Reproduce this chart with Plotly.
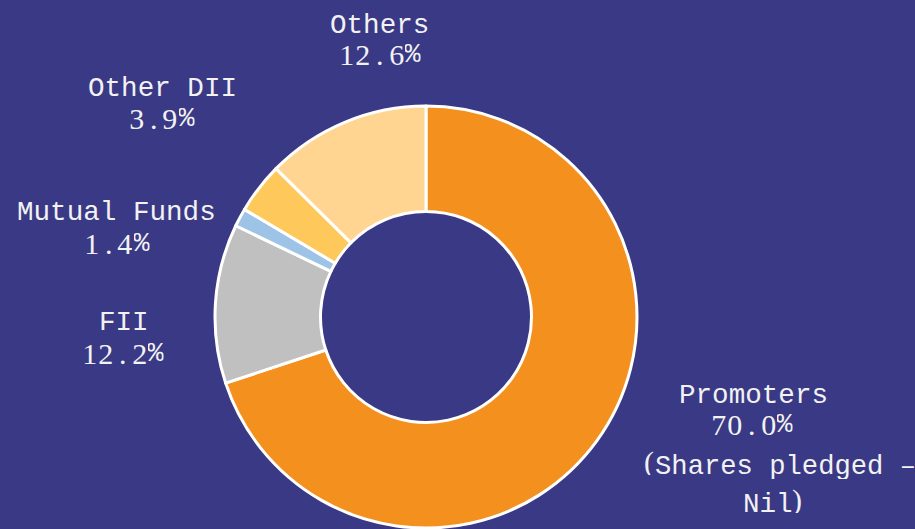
import plotly.graph_objects as go

categories = ["Promoters", "FII", "Mutual Funds", "Other DII", "Others"]
values = [70.0, 12.2, 1.4, 3.9, 12.6]
colors = ["#F4901E", "#C0C0C0", "#9DC3E6", "#FFC85A", "#FFD591"]
label_titles = ["Promoters", "FII", "Mutual Funds", "Other DII", "Others"]
pct_labels = ["70.0", "12.2", "1.4", "3.9", "12.6"]
note_line1 = "Shares pledged –"
note_line2 = "Nil"

W, H = 915, 529
BG = "#3A3985"
cx, cy, R = 426, 317, 211

fig = go.Figure(go.Pie(
    labels=categories, values=values, hole=0.5, sort=False,
    direction="clockwise", rotation=0,
    marker=dict(colors=colors, line=dict(color="white", width=3)),
    textinfo="none", hoverinfo="label+percent", showlegend=False,
    domain=dict(x=[(cx - R) / W, (cx + R) / W],
                y=[(H - cy - R) / H, (H - cy + R) / H]),
))

MONO = "Liberation Mono"
SERIF = "Liberation Serif"
FG = "#F2F2F2"
MSIZE = 27.6
ADV = 16.6
SSIZE = 30
BOXH = 26

# title center x, title cap-center y, pct center x, pct center y (pixels, top-left origin)
pos = {
    "Promoters": (753.5, 393, 752, 423),
    "FII": (124, 320, 123, 351.5),
    "Mutual Funds": (116, 210.5, 117, 242),
    "Other DII": (162, 86, 162, 117),
    "Others": (379, 23, 380, 53.5),
}

anns = []
def add(x, y, text, size, family, xanchor="center", width=None, align="center"):
    a = dict(x=x / W, y=1 - y / H, xref="paper", yref="paper",
             text=text, showarrow=False, xanchor=xanchor, yanchor="middle",
             borderpad=0, height=BOXH, align=align,
             font=dict(family=family, size=size, color=FG))
    if width is not None:
        a["width"] = width
    anns.append(a)

for cat, title, pct in zip(categories, label_titles, pct_labels):
    tx, ty, px, py = pos[cat]
    add(tx, ty + 2, title, MSIZE, MONO)
    s = pct + "%"
    start = px - ADV * len(s) / 2
    for i, ch in enumerate(s):
        ccx = start + ADV * (i + 0.5)
        if ch == "%":
            add(ccx, py + 1, ch, MSIZE, MONO, width=ADV - 1)
        else:
            add(ccx, py + 1, ch, SSIZE, SERIF, width=ADV - 1)

add(655, 462, "(", SSIZE, SERIF, xanchor="right")
add(654, 466, note_line1, 27.2, MONO, xanchor="left")
add(742, 504, note_line2, MSIZE, MONO, xanchor="left")
add(791, 500, ")", SSIZE, SERIF, xanchor="left")

fig.update_layout(
    width=W, height=H, margin=dict(l=0, r=0, t=0, b=0),
    paper_bgcolor=BG, plot_bgcolor=BG, annotations=anns,
)
fig.write_html("out.html", post_script="document.body.style.margin='0';",
               config={"displayModeBar": False})
